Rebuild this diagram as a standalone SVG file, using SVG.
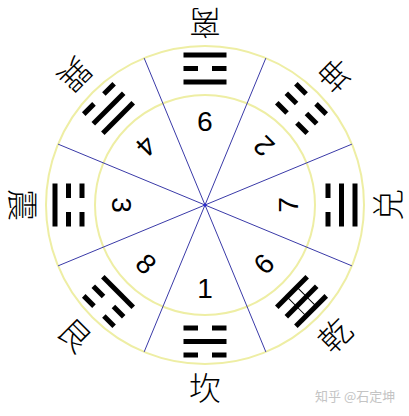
<svg xmlns="http://www.w3.org/2000/svg" xmlns:xlink="http://www.w3.org/1999/xlink" width="409" height="416" viewBox="0 0 409 416">
<style>
.ring{fill:none;stroke:#eeeea4;stroke-width:2}
.conn line{stroke:#3a3aa8;stroke-width:1}
.num{font-family:"Liberation Sans",Arial,sans-serif;font-size:28px;text-anchor:middle;fill:#000}
.lab{font-family:"Noto Sans CJK SC","Noto Sans CJK TC",sans-serif;font-size:32px;font-weight:300;text-anchor:middle;fill:#000}
.yao{fill:#000}
.thin{stroke:#000;stroke-width:1}
.wm{font-family:"Noto Sans CJK SC","Liberation Sans",sans-serif;font-size:13px;fill:#c4c4c4}
</style>
<defs>
<rect id="yang" class="yao" x="-21.5" y="-2.5" width="43" height="5"/>
<g id="yin" class="yao"><rect x="-21.5" y="-2.5" width="14.5" height="5"/><rect x="7" y="-2.5" width="14.5" height="5"/></g>
</defs>
<rect width="409" height="416" fill="#fff"/>
<circle class="ring" cx="205" cy="205" r="159"/>
<circle class="ring" cx="205" cy="205" r="110"/>
<g id="connectors" class="conn">
<line x1="144.15" y1="58.1" x2="265.85" y2="351.9"/>
<line x1="265.85" y1="58.1" x2="144.15" y2="351.9"/>
<line x1="58.1" y1="144.15" x2="351.9" y2="265.85"/>
<line x1="351.9" y1="144.15" x2="58.1" y2="265.85"/>
<circle cx="205" cy="205" r="1.6" fill="#2a2ad0"/>
</g>
<g id="kan" transform="rotate(0 205 205)">
<use xlink:href="#yin" x="205" y="355"/><use xlink:href="#yang" x="205" y="341.5"/><use xlink:href="#yin" x="205" y="328"/>
<text class="num" x="205" y="298">1</text>
<text class="lab" x="205" y="399.5">坎</text>
</g>
<g id="li" transform="rotate(180 205 205)">
<use xlink:href="#yang" x="205" y="355"/><use xlink:href="#yin" x="205" y="341.5"/><use xlink:href="#yang" x="205" y="328"/>
<text class="num" x="205" y="298">9</text>
<text class="lab" x="205" y="399.5">离</text>
</g>
<g id="zhen" transform="rotate(90 205 205)">
<use xlink:href="#yang" x="205" y="355"/><use xlink:href="#yin" x="205" y="341.5"/><use xlink:href="#yin" x="205" y="328"/>
<text class="num" x="205" y="298">3</text>
<text class="lab" x="205" y="399.5">震</text>
</g>
<g id="dui" transform="rotate(-90 205 205)">
<use xlink:href="#yang" x="205" y="355"/><use xlink:href="#yang" x="205" y="341.5"/><use xlink:href="#yin" x="205" y="328"/>
<text class="num" x="205" y="298">7</text>
<text class="lab" x="205" y="399.5">兑</text>
</g>
<g id="qian" transform="rotate(-45 205 205)">
<use xlink:href="#yang" x="205" y="355"/><use xlink:href="#yang" x="205" y="341.5"/><use xlink:href="#yang" x="205" y="328"/>
<line class="thin" x1="198" y1="328" x2="198" y2="355"/><line class="thin" x1="212" y1="328" x2="212" y2="355"/>
<text class="num" x="205" y="298">6</text>
<text class="lab" x="205" y="401">乾</text>
</g>
<g id="kun" transform="rotate(-135 205 205)">
<use xlink:href="#yin" x="205" y="355"/><use xlink:href="#yin" x="205" y="341.5"/><use xlink:href="#yin" x="205" y="328"/>
<text class="num" x="205" y="298">2</text>
<text class="lab" x="205" y="401">坤</text>
</g>
<g id="xun" transform="rotate(135 205 205)">
<use xlink:href="#yin" x="205" y="355"/><use xlink:href="#yang" x="205" y="341.5"/><use xlink:href="#yang" x="205" y="328"/>
<text class="num" x="205" y="298">4</text>
<text class="lab" x="205" y="401">巽</text>
</g>
<g id="gen" transform="rotate(45 205 205)">
<use xlink:href="#yin" x="205" y="355"/><use xlink:href="#yin" x="205" y="341.5"/><use xlink:href="#yang" x="205" y="328"/>
<text class="num" x="205" y="298">8</text>
<text class="lab" x="205" y="401">艮</text>
</g>
<text class="wm" x="315" y="401">知乎 @石定坤</text>
</svg>
